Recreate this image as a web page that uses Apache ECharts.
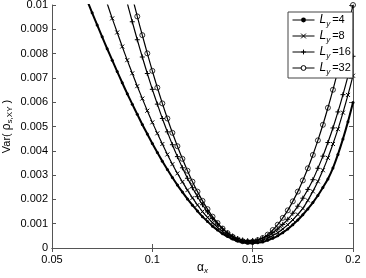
<!DOCTYPE html>
<html><head><meta charset="utf-8">
<script src="https://cdn.jsdelivr.net/npm/echarts/dist/echarts.min.js"></script>
<style>html,body{margin:0;padding:0;background:#fff}#c{width:366px;height:278px}</style>
</head><body><div id="c"></div>
<script>
const alphaX = [0.0675,0.07,0.0725,0.075,0.0775,0.08,0.0825,0.085,0.0875,0.09,0.0925,0.095,0.0975,0.1,0.1025,0.105,0.1075,0.11,0.1125,0.115,0.1175,0.12,0.1225,0.125,0.1275,0.13,0.1325,0.135,0.1375,0.14,0.1425,0.145,0.1475,0.15,0.1525,0.155,0.1575,0.16,0.1625,0.165,0.1675,0.17,0.1725,0.175,0.1775,0.18,0.1825,0.185,0.1875,0.19,0.1925,0.195,0.1975,0.2];
const varLy4 = [0.01019,0.00968,0.00918,0.00869,0.00820,0.00773,0.00726,0.00680,0.00635,0.00592,0.00550,0.00508,0.00469,0.00430,0.00393,0.00357,0.00323,0.00290,0.00259,0.00230,0.00202,0.00176,0.00152,0.00129,0.00109,0.00090,0.00074,0.00059,0.00047,0.00037,0.00029,0.00024,0.00021,0.00020,0.00022,0.00025,0.00032,0.00040,0.00050,0.00063,0.00078,0.00096,0.00115,0.00137,0.00161,0.00187,0.00216,0.00249,0.00284,0.00329,0.00385,0.00449,0.00520,0.00599];
const varLy8 = [null,null,null,null,0.01006,0.00945,0.00887,0.00829,0.00773,0.00719,0.00666,0.00615,0.00565,0.00517,0.00472,0.00428,0.00385,0.00345,0.00307,0.00272,0.00238,0.00206,0.00177,0.00150,0.00126,0.00104,0.00085,0.00068,0.00054,0.00043,0.00034,0.00028,0.00025,0.00025,0.00028,0.00033,0.00040,0.00051,0.00063,0.00078,0.00096,0.00116,0.00138,0.00163,0.00196,0.00233,0.00274,0.00320,0.00371,0.00428,0.00489,0.00557,0.00630,0.00709];
const varLy16 = [null,null,null,null,null,null,null,null,0.01008,0.00931,0.00857,0.00786,0.00718,0.00653,0.00592,0.00533,0.00478,0.00425,0.00376,0.00330,0.00287,0.00248,0.00211,0.00178,0.00148,0.00122,0.00099,0.00079,0.00062,0.00049,0.00039,0.00033,0.00030,0.00031,0.00034,0.00041,0.00050,0.00063,0.00078,0.00097,0.00118,0.00143,0.00172,0.00205,0.00241,0.00281,0.00328,0.00378,0.00434,0.00494,0.00560,0.00631,0.00707,0.00789];
const varLy32 = [null,null,null,null,null,null,null,null,null,0.01034,0.00953,0.00876,0.00801,0.00729,0.00660,0.00595,0.00533,0.00474,0.00419,0.00367,0.00318,0.00273,0.00232,0.00194,0.00160,0.00129,0.00103,0.00080,0.00061,0.00046,0.00035,0.00028,0.00025,0.00026,0.00032,0.00041,0.00055,0.00074,0.00096,0.00124,0.00155,0.00192,0.00232,0.00278,0.00328,0.00383,0.00443,0.00507,0.00577,0.00651,0.00731,0.00815,0.00905,0.01000];
const lyLabels = ['4','8','16','32'];
const xTicks = [0.05,0.1,0.15,0.2];
const yTicks = [0,0.001,0.002,0.003,0.004,0.005,0.006,0.007,0.008,0.009,0.01];

function pairs(vals){ return alphaX.map((a,i)=> vals[i]==null ? null : [a, vals[i]]).filter(p=>p); }
const FONT = 'Liberation Sans';
const axisCol = '#555';
const chart = echarts.init(document.getElementById('c'), null, {renderer:'canvas'});
const names = lyLabels.map(l => 'Ly=' + l);
const baseAxis = {
  axisLine:{show:true,lineStyle:{color:axisCol,width:1}},
  axisTick:{show:true,inside:true,length:4,lineStyle:{color:axisCol}},
  splitLine:{show:false}
};
const symbols = [
  {symbol:'circle', size:3, item:{color:'#000'}, leg:{color:'#000', borderWidth:0}},
  {symbol:'path://M0,0L10,10M10,0L0,10', size:4, item:{color:'rgba(0,0,0,0)', borderColor:'#000', borderWidth:1}, leg:{color:'rgba(0,0,0,0)', borderColor:'#000', borderWidth:1}},
  {symbol:'path://M5,0L5,10M0,5L10,5', size:5, item:{color:'rgba(0,0,0,0)', borderColor:'#000', borderWidth:1}, leg:{color:'rgba(0,0,0,0)', borderColor:'#000', borderWidth:1}},
  {symbol:'circle', size:5, item:{color:'rgba(0,0,0,0)', borderColor:'#000', borderWidth:0.8}, leg:{color:'#fff', borderColor:'#000', borderWidth:1}}
];
const seriesVals = [varLy4, varLy8, varLy16, varLy32];
chart.setOption({
  animation:false,
  backgroundColor:'#fff',
  textStyle:{fontFamily:FONT},
  grid:{left:52,top:5,right:13,bottom:30,containLabel:false,outerBoundsMode:'none'},
  legend:{
    orient:'vertical', left:288, top:12,
    backgroundColor:'#fff', borderColor:'#444', borderWidth:1, borderRadius:0,
    padding:[2,2,2,4], itemGap:2, itemWidth:22, itemHeight:6,
    data:names.map((n,k)=>({name:n, itemStyle:symbols[k].leg, lineStyle:{color:'#000', width:1}})),
    formatter: n => '{i|L}{s|y}{t|=' + n.split('=')[1] + '}',
    textStyle:{color:'#000', fontFamily:FONT, padding:[0,0,0,0],
      rich:{ i:{fontStyle:'italic',fontSize:12,color:'#000',fontFamily:FONT, lineHeight:16},
             s:{fontStyle:'italic',fontSize:8,color:'#000',fontFamily:FONT, verticalAlign:'bottom', lineHeight:8},
             t:{fontSize:11,color:'#000',fontFamily:FONT, lineHeight:16, padding:[0,0,0,2]} } }
  },
  xAxis:[
    Object.assign({type:'value', min:0.05, max:0.2, interval:0.05, position:'bottom',
      axisLabel:{color:'#000', fontSize:11, fontFamily:FONT, margin:6, formatter: v => String(+v.toFixed(2))},
      name:'{a|α}{s|x}', nameLocation:'middle', nameGap:13, nameMoveOverlap:false,
      nameTextStyle:{rich:{a:{fontSize:12,color:'#000',fontFamily:FONT,lineHeight:14}, s:{fontSize:8,fontStyle:'italic',color:'#000',fontFamily:FONT,verticalAlign:'bottom',lineHeight:7}}}
    }, baseAxis),
    Object.assign({type:'value', min:0.05, max:0.2, interval:0.05, position:'top', axisLabel:{show:false}}, baseAxis)
  ],
  yAxis:[
    Object.assign({type:'value', min:0, max:0.01, interval:0.001, position:'left',
      axisLabel:{color:'#000', fontSize:11, fontFamily:FONT, margin:4, formatter: v => String(+v.toFixed(3))},
      name:'{m|Var( }{g|ρ}{s|s,XY}{m| )}', nameLocation:'middle', nameGap:38, nameRotate:90, nameMoveOverlap:false,
      nameTextStyle:{color:'#000', fontSize:11, fontFamily:FONT, rich:{m:{fontSize:11,color:'#000',fontFamily:FONT,lineHeight:14}, g:{fontSize:12,color:'#000',fontFamily:FONT,lineHeight:14}, s:{fontSize:8,color:'#000',fontFamily:FONT,verticalAlign:'bottom',lineHeight:7}}}
    }, baseAxis),
    Object.assign({type:'value', min:0, max:0.01, interval:0.001, position:'right', axisLabel:{show:false}}, baseAxis)
  ],
  series: seriesVals.map((vals,k)=>({
    name:names[k], type:'line', xAxisIndex:0, yAxisIndex:0,
    data:pairs(vals), smooth:0.3, clip:true,
    symbol:symbols[k].symbol, symbolSize:symbols[k].size, showSymbol:true,
    itemStyle:symbols[k].item,
    lineStyle:{color:'#000', width: k===0 ? 2 : 1.2},
    emphasis:{disabled:true}
  }))
});
</script></body></html>
